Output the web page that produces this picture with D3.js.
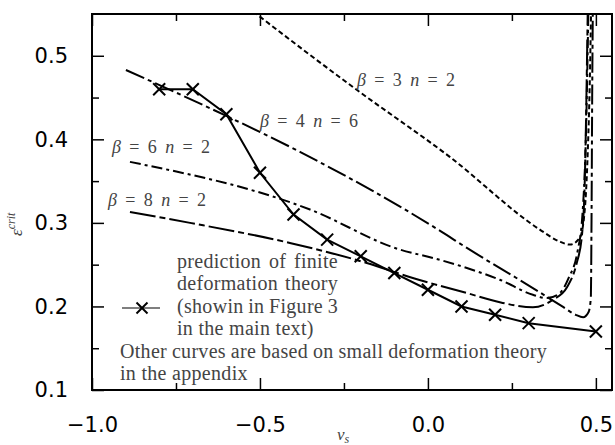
<!DOCTYPE html>
<html>
<head>
<meta charset="utf-8">
<script src="https://cdn.jsdelivr.net/npm/d3@7"></script>
<style>
  body { margin: 0; background: #fff; }
  .tick text { font-family: "DejaVu Sans", sans-serif; font-size: 21px; fill: #000; }
  .note { font-family: "Liberation Serif", serif; fill: #444; }
</style>
</head>
<body>
<div id="chart"></div>
<script>
// finite deformation theory (crosses)
const nuFinite = [-0.8, -0.7, -0.6, -0.5, -0.4, -0.3, -0.2, -0.1, 0.0, 0.1, 0.2, 0.3, 0.5];
const epsFinite = [0.46, 0.46, 0.43, 0.36, 0.31, 0.28, 0.26, 0.24, 0.22, 0.20, 0.19, 0.18, 0.17];

// small deformation theory curves
const nuB3 = [-0.52, -0.351, -0.211, 0.065, 0.333, 0.39, 0.423, 0.452, 0.467, 0.476, 0.482, 0.486];
const epsB3 = [0.553, 0.501, 0.459, 0.379, 0.292, 0.278, 0.274, 0.282, 0.316, 0.387, 0.471, 0.56];

const nuB4 = [-0.899, -0.6, -0.381, 0.03, 0.116, 0.3125, 0.40, 0.44, 0.462, 0.478, 0.485, 0.487, 0.489, 0.491];
const epsB4 = [0.483, 0.428, 0.385, 0.292, 0.270, 0.222, 0.200, 0.190, 0.187, 0.193, 0.21, 0.30, 0.45, 0.56];

const nuB6 = [-0.887, -0.351, -0.083, 0.015, 0.116, 0.214, 0.3125, 0.354, 0.39, 0.42, 0.445, 0.46, 0.47, 0.478];
const epsB6 = [0.373, 0.316, 0.268, 0.258, 0.246, 0.232, 0.214, 0.210, 0.215, 0.235, 0.265, 0.31, 0.40, 0.56];

const nuB8 = [-0.887, -0.708, -0.411, -0.182, -0.045, 0.116, 0.214, 0.3125, 0.372, 0.414, 0.443, 0.458, 0.467, 0.476];
const epsB8 = [0.313, 0.300, 0.276, 0.252, 0.234, 0.216, 0.205, 0.199, 0.208, 0.223, 0.252, 0.283, 0.351, 0.56];

const xMajor = [-1.0, -0.5, 0.0, 0.5];
const xMinor = [-0.75, -0.25, 0.25];
const yMajor = [0.1, 0.2, 0.3, 0.4, 0.5];
const yMinor = [0.15, 0.25, 0.35, 0.45];

const curveLabels = ["3", "4", "6", "8"];
const curveN = ["2", "6", "2", "2"];
const legendLines = ["prediction of finite", "deformation theory", "(showin in Figure 3", "in the main text)"];
const noteLines = ["Other curves are based on small deformation theory", "in the appendix"];

const config = {
  width: 615, height: 445,
  margin: { top: 14, right: 3, bottom: 55, left: 92 }
};

const svg = d3.select('#chart').append('svg')
  .attr('width', config.width)
  .attr('height', config.height);

const innerW = config.width - config.margin.left - config.margin.right;
const innerH = config.height - config.margin.top - config.margin.bottom;

const xScale = d3.scaleLinear().domain([-1.0, 0.548]).range([0, innerW]);
const yScale = d3.scaleLinear().domain([0.1, 0.55]).range([innerH, 0]);

const chart = svg.append('g')
  .attr('transform', `translate(${config.margin.left},${config.margin.top})`);

chart.append('clipPath').attr('id', 'clip')
  .append('rect').attr('width', innerW).attr('height', innerH);

// axes: major ticks with labels, minor ticks without, mirrored on top/right
const fmt = d3.format('.1f');
const addAxis = (axisFn, scale, values, size, labels, transform, pad) => {
  const ax = axisFn(scale).tickValues(values).tickSizeInner(-size).tickSizeOuter(0)
    .tickPadding(pad || 3)
    .tickFormat(labels ? fmt : '');
  const g = chart.append('g').attr('transform', transform || null).call(ax);
  g.select('.domain').remove();
  g.selectAll('.tick line').attr('stroke', '#000').attr('stroke-width', 1.5);
  return g;
};

addAxis(d3.axisBottom, xScale, xMajor, 12, true, `translate(0,${innerH})`, 27);
addAxis(d3.axisBottom, xScale, xMinor, 7, false, `translate(0,${innerH})`);
addAxis(d3.axisTop, xScale, xMajor, 12, false);
addAxis(d3.axisTop, xScale, xMinor, 7, false);
addAxis(d3.axisLeft, yScale, yMajor, 12, true, null, 24);
addAxis(d3.axisLeft, yScale, yMinor, 7, false);
addAxis(d3.axisRight, yScale, yMajor, 12, false, `translate(${innerW},0)`);
addAxis(d3.axisRight, yScale, yMinor, 7, false, `translate(${innerW},0)`);
chart.selectAll('.tick text').attr('fill', '#000');

// curves
const line = d3.line()
  .x(d => xScale(d[0]))
  .y(d => yScale(d[1]))
  .curve(d3.curveMonotoneX);

const curves = [
  { nu: nuB3, eps: epsB3, dash: '5,3' },
  { nu: nuB4, eps: epsB4, dash: '20,4,4,4' },
  { nu: nuB6, eps: epsB6, dash: '11,4,3,4' },
  { nu: nuB8, eps: epsB8, dash: '26,4,6,4' }
];

const plot = chart.append('g').attr('clip-path', 'url(#clip)');

plot.selectAll('.curve')
  .data(curves)
  .join('path')
  .attr('class', 'curve')
  .attr('d', c => line(c.nu.map((v, i) => [v, c.eps[i]])))
  .attr('fill', 'none')
  .attr('stroke', '#000')
  .attr('stroke-width', 2)
  .attr('stroke-dasharray', c => c.dash);

const finite = nuFinite.map((v, i) => [v, epsFinite[i]]);
plot.append('path')
  .attr('d', d3.line().x(d => xScale(d[0])).y(d => yScale(d[1]))(finite))
  .attr('fill', 'none')
  .attr('stroke', '#000')
  .attr('stroke-width', 2);

const cross = (g, s) => {
  g.append('line').attr('x1', -s).attr('y1', -s).attr('x2', s).attr('y2', s);
  g.append('line').attr('x1', -s).attr('y1', s).attr('x2', s).attr('y2', -s);
  g.selectAll('line').attr('stroke', '#000').attr('stroke-width', 2);
};

plot.selectAll('.marker')
  .data(finite)
  .join('g')
  .attr('class', 'marker')
  .attr('transform', d => `translate(${xScale(d[0])},${yScale(d[1])})`)
  .each(function () { cross(d3.select(this), 6); });

// frame
chart.append('rect')
  .attr('width', innerW).attr('height', innerH)
  .attr('fill', 'none').attr('stroke', '#000').attr('stroke-width', 2);

// stretch the spaces of a text so that it spans the target width
const justify = (sel, target) => {
  const len = sel.node().getComputedTextLength();
  const spaces = (sel.text().match(/ /g) || []).length;
  if (spaces) sel.attr('word-spacing', (target - len) / spaces);
};

// curve labels (absolute pixel anchors)
const labelPos = [[357, 86], [260, 127], [112, 153], [108, 206]];
curveLabels.forEach((b, i) => {
  const t = svg.append('text').attr('class', 'note')
    .attr('x', labelPos[i][0]).attr('y', labelPos[i][1])
    .attr('font-size', 18);
  t.append('tspan').attr('font-style', 'italic').text('β');
  t.append('tspan').text(` = ${b} `);
  t.append('tspan').attr('font-style', 'italic').text('n');
  t.append('tspan').text(` = ${curveN[i]}`);
  justify(t, 98);
});

// legend
legendLines.forEach((s, i) => {
  const t = svg.append('text').attr('class', 'note')
    .attr('x', 177).attr('y', 268 + i * 22.4)
    .attr('font-size', 20).attr('letter-spacing', 0.3).text(s);
  if (i < 3) justify(t, 161);
});
noteLines.forEach((s, i) => {
  const t = svg.append('text').attr('class', 'note')
    .attr('x', 120).attr('y', 357.6 + i * 22.4)
    .attr('font-size', 20).attr('letter-spacing', 0.3).text(s);
  if (i === 0) justify(t, 427);
});

svg.append('line')
  .attr('x1', 122).attr('x2', 160).attr('y1', 308).attr('y2', 308)
  .attr('stroke', '#555').attr('stroke-width', 1.5);
cross(svg.append('g').attr('transform', 'translate(142,308)'), 5.5);

// axis titles
const yt = svg.append('text')
  .attr('transform', 'translate(22,236) rotate(-90)')
  .attr('font-family', 'Liberation Serif, serif')
  .attr('font-style', 'italic')
  .attr('fill', '#444')
  .attr('font-size', 17);
yt.append('tspan').text('ε');
yt.append('tspan').attr('font-size', 12).attr('dy', -7).text('crit');

const xt = svg.append('text')
  .attr('x', 337).attr('y', 440)
  .attr('font-family', 'Liberation Serif, serif')
  .attr('font-style', 'italic')
  .attr('fill', '#444')
  .attr('font-size', 17);
xt.append('tspan').text('ν');
xt.append('tspan').attr('font-size', 12).attr('dy', 3).text('s');
</script>
</body>
</html>
